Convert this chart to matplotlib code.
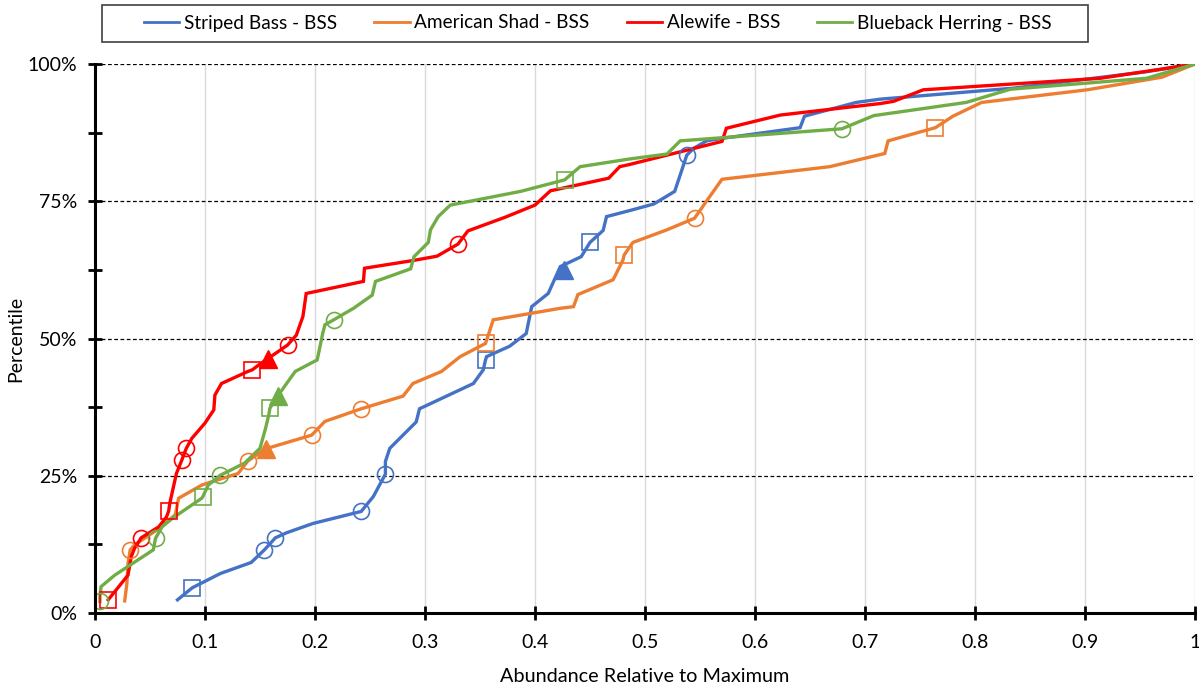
import matplotlib.pyplot as plt
import numpy as np
from matplotlib.patches import Rectangle
from matplotlib.ticker import FixedLocator, FuncFormatter

plt.rcParams['font.family'] = ['Lato', 'DejaVu Sans']

# Cumulative percentile curves (x = abundance relative to max, y = percentile %)
bass_x = [0.075, 0.0885, 0.114, 0.142, 0.154, 0.164, 0.174, 0.198, 0.242, 0.253, 0.264, 0.264,
          0.268, 0.292, 0.295, 0.344, 0.353, 0.355, 0.356, 0.377, 0.392, 0.397, 0.412, 0.423,
          0.442, 0.45, 0.462, 0.465, 0.486, 0.508, 0.527, 0.535, 0.538, 0.544, 0.556, 0.568,
          0.641, 0.645, 0.692, 0.714, 0.835, 0.956, 1.0]
bass_y = [2.4, 4.6, 7.2, 9.2, 11.5, 13.7, 14.6, 16.3, 18.5, 21.2, 25.3, 27.6,
          30.0, 34.8, 37.2, 41.8, 44.3, 46.1, 46.7, 48.6, 50.9, 55.8, 58.2, 63.1,
          64.9, 67.5, 69.7, 72.2, 73.3, 74.5, 76.8, 81.6, 83.4, 84.6, 86.0, 86.4,
          88.4, 90.5, 93.0, 93.6, 95.6, 98.6, 100.0]

shad_x = [0.027, 0.029, 0.030, 0.032, 0.036, 0.059, 0.073, 0.076, 0.097, 0.106, 0.130, 0.139,
          0.155, 0.197, 0.209, 0.242, 0.280, 0.289, 0.315, 0.332, 0.355, 0.358, 0.362, 0.423,
          0.435, 0.439, 0.471, 0.480, 0.481, 0.489, 0.520, 0.545, 0.559, 0.570, 0.668, 0.718,
          0.721, 0.764, 0.780, 0.806, 0.902, 0.970, 1.0]
shad_y = [2.2, 5.4, 9.0, 11.5, 12.4, 15.5, 17.9, 20.9, 23.3, 23.9, 25.4, 27.7,
          29.9, 32.4, 34.9, 37.2, 39.5, 41.8, 44.0, 46.7, 49.1, 50.9, 53.4, 55.5,
          55.8, 58.0, 60.7, 64.3, 65.2, 67.5, 69.8, 71.9, 75.9, 79.0, 81.3, 83.7,
          86.0, 88.4, 90.5, 93.0, 95.3, 97.6, 100.0]

alewife_x = [0.012, 0.030, 0.033, 0.036, 0.042, 0.058, 0.065, 0.067, 0.068, 0.074, 0.079, 0.083,
             0.088, 0.100, 0.108, 0.109, 0.115, 0.139, 0.143, 0.149, 0.157, 0.175, 0.183, 0.189,
             0.192, 0.244, 0.245, 0.289, 0.311, 0.330, 0.339, 0.373, 0.400, 0.414, 0.467, 0.477,
             0.486, 0.544, 0.570, 0.574, 0.623, 0.714, 0.726, 0.753, 0.914, 1.0]
alewife_y = [2.4, 6.9, 10.3, 11.8, 13.7, 15.7, 17.5, 18.6, 20.0, 25.4, 27.9, 30.0,
             31.8, 34.6, 37.0, 39.7, 41.8, 44.0, 44.3, 45.2, 46.3, 48.8, 50.6, 54.0,
             58.2, 60.4, 62.8, 64.2, 65.0, 67.2, 69.6, 72.1, 74.3, 76.9, 79.2, 81.3,
             81.7, 84.6, 85.9, 88.3, 90.7, 92.8, 93.2, 95.3, 97.4, 100.0]

herring_x = [0.0045, 0.0045, 0.0055, 0.018, 0.053, 0.055, 0.061, 0.070, 0.097, 0.098, 0.103, 0.114,
             0.136, 0.150, 0.155, 0.158, 0.159, 0.166, 0.182, 0.202, 0.207, 0.209, 0.217, 0.235,
             0.252, 0.255, 0.287, 0.290, 0.303, 0.305, 0.312, 0.323, 0.387, 0.427, 0.441, 0.486,
             0.520, 0.532, 0.679, 0.708, 0.792, 0.832, 0.956, 1.0]
herring_y = [2.1, 3.0, 4.8, 6.9, 11.5, 13.6, 15.7, 17.2, 20.9, 21.2, 23.3, 25.1,
             27.3, 30.0, 33.6, 36.1, 37.3, 39.5, 44.0, 46.1, 50.9, 52.5, 53.4, 55.5,
             57.9, 60.4, 62.7, 64.9, 67.5, 69.8, 72.2, 74.3, 76.8, 78.9, 81.3, 82.7,
             83.6, 86.0, 88.2, 90.6, 93.0, 95.4, 97.4, 100.0]

# Highlighted points on each curve: circles, squares, triangle
bass_circ = ([0.154, 0.164, 0.242, 0.264, 0.538], [11.5, 13.7, 18.5, 25.3, 83.4])
bass_sq = ([0.0885, 0.355, 0.45], [4.6, 46.1, 67.5])
bass_tri = ([0.426], [62.5])

shad_circ = ([0.032, 0.139, 0.197, 0.242, 0.545], [11.5, 27.7, 32.4, 37.2, 71.9])
shad_sq = ([0.355, 0.481, 0.764], [49.1, 65.2, 88.4])
shad_tri = ([0.155], [29.9])

alewife_circ = ([0.042, 0.079, 0.083, 0.175, 0.330], [13.7, 27.9, 30.0, 48.8, 67.2])
alewife_sq = ([0.012, 0.067, 0.143], [2.4, 18.6, 44.3])
alewife_tri = ([0.157], [46.3])

herring_circ = ([0.0045, 0.055, 0.114, 0.217, 0.679], [2.1, 13.6, 25.1, 53.4, 88.2])
herring_sq = ([0.098, 0.159, 0.427], [21.2, 37.3, 78.9])
herring_tri = ([0.166], [39.5])

series = [
    ("Striped Bass - BSS", "#4472C4", bass_x, bass_y, bass_circ, bass_sq, bass_tri),
    ("American Shad - BSS", "#ED7D31", shad_x, shad_y, shad_circ, shad_sq, shad_tri),
    ("Alewife - BSS", "#FF0000", alewife_x, alewife_y, alewife_circ, alewife_sq, alewife_tri),
    ("Blueback Herring - BSS", "#70AD47", herring_x, herring_y, herring_circ, herring_sq, herring_tri),
]

fig = plt.figure(figsize=(11.99, 6.85), dpi=100)
ax = fig.add_axes([95 / 1199, 1 - 613 / 685, 1100 / 1199, 549 / 685])

for name, col, xs, ys, circ, sq, tri in series:
    ax.plot(xs, ys, color=col, lw=2.4, label=name, zorder=3, solid_joinstyle="miter")
    ax.plot(circ[0], circ[1], ls="none", marker="o", ms=11.5, mfc="none", mec=col, mew=1.2, zorder=4)
    ax.plot(sq[0], sq[1], ls="none", marker="s", ms=11.5, mfc="none", mec=col, mew=1.2, zorder=4)
    ax.plot(tri[0], tri[1], ls="none", marker="^", ms=13, mfc=col, mec=col, zorder=4)

ax.set_xlim(0, 1)
ax.set_ylim(0, 100)

x_ticks = np.arange(0, 1.01, 0.1)
x_labels = ["0", "0.1", "0.2", "0.3", "0.4", "0.5", "0.6", "0.7", "0.8", "0.9", "1"]
ax.set_xticks(x_ticks)
ax.set_xticklabels(x_labels)
ax.set_yticks([0, 25, 50, 75, 100])
ax.yaxis.set_minor_locator(FixedLocator([12.5, 37.5, 62.5, 87.5]))
ax.yaxis.set_major_formatter(FuncFormatter(lambda v, p: f"{v:.0f}%"))
ax.tick_params(axis="y", which="both", direction="inout", length=10, width=2, labelsize=14, pad=8)
ax.tick_params(axis="x", direction="inout", length=10, width=2, labelsize=14, pad=10)

# vertical grey grid, horizontal dashed grid
for xv in x_ticks[1:]:
    ax.axvline(xv, color="#d9d9d9", lw=1, zorder=1)
for yv in [25, 50, 75, 100]:
    ax.axhline(yv, color="black", lw=0.9, ls=(0, (3, 2)), zorder=1)

for s in ["top", "right"]:
    ax.spines[s].set_visible(False)
for s in ["left", "bottom"]:
    ax.spines[s].set_linewidth(2.2)
    ax.spines[s].set_zorder(5)

ax.set_xlabel("Abundance Relative to Maximum", fontsize=14.3, labelpad=12)
ax.set_ylabel("Percentile", fontsize=14, labelpad=2)

# legend row across the top with a plain box around it
leg = ax.legend(loc="center", bbox_to_anchor=(598 / 1199, 1 - 23 / 685), bbox_transform=fig.transFigure,
                ncol=4, fontsize=13.7, frameon=False,
                handlelength=1.85, handletextpad=0.25, columnspacing=1.95)
for h in leg.get_lines():
    h.set_linewidth(2)
fig.patches.append(Rectangle((102 / 1199, 1 - 42 / 685), 986 / 1199, 37 / 685,
                             transform=fig.transFigure, fill=False, edgecolor="#404040", lw=1.2))

fig.savefig("out.png", dpi=100)
